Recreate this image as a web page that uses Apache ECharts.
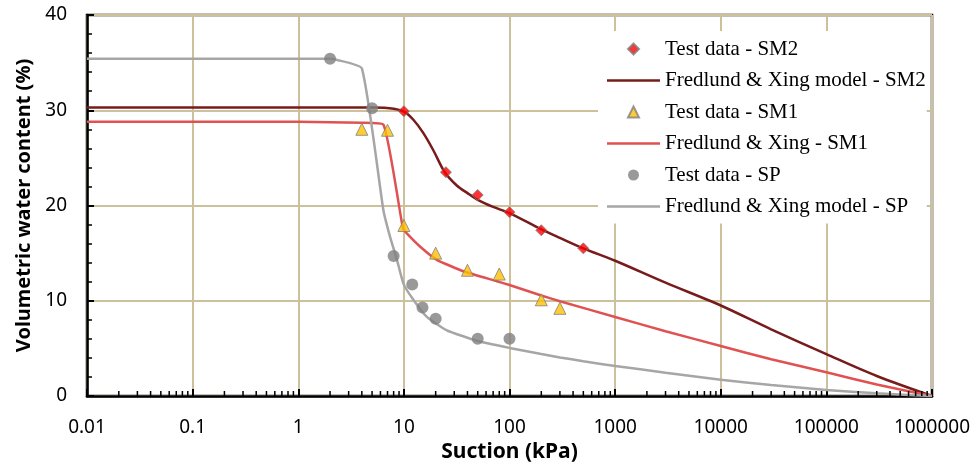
<!DOCTYPE html>
<html>
<head>
<meta charset="utf-8">
<script src="https://cdn.jsdelivr.net/npm/echarts@6/dist/echarts.min.js"></script>
<style>
  html, body { margin: 0; padding: 0; background: #fff; }
  #chart { width: 975px; height: 463px; }
</style>
</head>
<body>
<div id="chart"></div>
<script>
// test data
const sm2TestX = [10, 25, 50, 100, 200, 500]
const sm2TestY = [29.9, 23.5, 21.1, 19.3, 17.4, 15.5]
const sm1TestX = [4, 7, 10, 20, 40, 80, 200, 300]
const sm1TestY = [28.0, 27.9, 17.9, 15.0, 13.2, 12.8, 10.1, 9.2]
const spTestX = [2, 5, 8, 12, 15, 20, 50, 100]
const spTestY = [35.4, 30.2, 14.7, 11.7, 9.3, 8.1, 6.0, 6.0]

// fitted curves
const sm2ModelX = [0.01, 1, 5, 6.5, 8, 10, 12.3, 15.3, 19, 24.2, 31.7, 40, 50, 70, 100, 200, 300, 500, 1000, 3000, 10000, 30000, 100000, 300000, 1000000]
const sm2ModelY = [30.3, 30.3, 30.3, 30.27, 30.15, 29.85, 29.0, 27.6, 25.8, 23.55, 22.1, 21.3, 20.6, 19.85, 19.2, 17.5, 16.6, 15.5, 14.2, 11.9, 9.5, 7.0, 4.4, 2.1, 0]
const sm1ModelX = [0.01, 1, 4, 6.4, 9.8, 10.6, 14.2, 20.5, 36.6, 76, 100, 200, 300, 1000, 3000, 10000, 30000, 100000, 300000, 1000000]
const sm1ModelY = [28.8, 28.78, 28.7, 28.5, 17.6, 17.1, 15.7, 14.3, 13.1, 12.05, 11.65, 10.55, 9.95, 8.3, 6.8, 5.25, 3.85, 2.5, 1.2, 0]
const spModelX = [0.01, 2, 2.3, 4, 6.4, 7.4, 8.6, 9.9, 12.3, 16.5, 25.5, 49, 100, 200, 300, 500, 1000, 3000, 10000, 30000, 100000, 300000, 1000000]
const spModelY = [35.4, 35.4, 35.3, 34.4, 19.5, 16.7, 14.3, 11.8, 10.1, 8.3, 6.9, 5.8, 5.05, 4.4, 4.05, 3.65, 3.15, 2.45, 1.7, 1.15, 0.63, 0.28, 0]

const decades = [0.01, 0.1, 1, 10, 100, 1000, 10000, 100000]

const zip = (xs, ys) => xs.map((x, i) => [x, ys[i]])

// minor ticks at 2..9 of each decade
const minorTicks = []
decades.forEach(d => {
  for (let k = 2; k <= 9; k++) minorTicks.push([d * k, 0])
})

const serif = 'Liberation Serif'
const sans = 'Noto Sans'
const gridColor = '#cdc19c'

// legend icons (path icons keep their aspect)
const iconDiamond = 'path://M0,-1L1,0L0,1L-1,0Z'
const iconTriangle = 'path://M0,-1L1,1L-1,1Z'
const iconCircle = 'path://M-1,0A1,1,0,1,0,1,0A1,1,0,1,0,-1,0Z'
const iconLine = 'path://M0,0L53,0L53,2.5L0,2.5Z'

const chart = echarts.init(document.getElementById('chart'))

chart.setOption({
  animation: false,
  backgroundColor: '#fff',
  grid: {
    left: 87, right: 43, top: 15, bottom: 67,
    outerBoundsMode: 'none',
    show: true, borderColor: '#000', borderWidth: 2.5
  },
  legend: {
    orient: 'vertical',
    left: 598, top: 31,
    padding: [7, 1, 6, 9],
    backgroundColor: '#fff',
    itemWidth: 53, itemHeight: 11, itemGap: 9.5,
    textStyle: { fontFamily: serif, fontSize: 21, lineHeight: 22, color: '#000' },
    data: [
      { name: 'Test data - SM2', icon: iconDiamond },
      { name: 'Fredlund & Xing model - SM2', icon: iconLine },
      { name: 'Test data - SM1', icon: iconTriangle },
      { name: 'Fredlund & Xing - SM1', icon: iconLine },
      { name: 'Test data - SP', icon: iconCircle },
      { name: 'Fredlund & Xing model - SP', icon: iconLine }
    ]
  },
  xAxis: {
    type: 'log', logBase: 10, min: 0.01, max: 1000000,
    name: 'Suction (kPa)', nameLocation: 'middle', nameGap: 40,
    nameTextStyle: { fontFamily: sans, fontWeight: 'bold', fontSize: 21, color: '#000' },
    axisLine: { lineStyle: { color: '#000', width: 2.5 } },
    axisTick: { inside: true, length: 7, lineStyle: { color: '#000', width: 2 } },
    axisLabel: {
      fontFamily: sans, fontSize: 19, color: '#000', margin: 22,
      formatter: v => String(Number(v.toPrecision(6)))
    },
    splitLine: { show: true, lineStyle: { color: gridColor, width: 2 } }
  },
  yAxis: {
    type: 'value', min: 0, max: 40, interval: 10,
    name: 'Volumetric water content (%)', nameLocation: 'middle', nameGap: 53,
    nameTextStyle: { fontFamily: sans, fontWeight: 'bold', fontSize: 20, color: '#000' },
    axisLine: { show: true, lineStyle: { color: '#000', width: 2.5 } },
    axisTick: { show: true, inside: true, length: 7, lineStyle: { color: '#000', width: 2 } },
    minorTick: { show: true, splitNumber: 5, length: 5, lineStyle: { color: '#000', width: 1.5 } },
    axisLabel: { fontFamily: sans, fontSize: 19, color: '#000', margin: 20 },
    splitLine: { show: true, lineStyle: { color: gridColor, width: 2 } }
  },
  series: [
    {
      name: 'Test data - SM2', type: 'scatter', data: zip(sm2TestX, sm2TestY),
      symbol: 'diamond', symbolSize: 11, z: 5,
      itemStyle: { color: '#ff0000', borderColor: '#7f7f7f', borderWidth: 1 }
    },
    {
      name: 'Fredlund & Xing model - SM2', type: 'line', data: zip(sm2ModelX, sm2ModelY),
      showSymbol: false, symbol: 'none', smooth: 0.3, z: 3,
      itemStyle: { color: '#771b1b' },
      lineStyle: { color: '#771b1b', width: 2.5 }
    },
    {
      name: 'Test data - SM1', type: 'scatter', data: zip(sm1TestX, sm1TestY),
      symbol: 'triangle', symbolSize: 12, z: 5,
      itemStyle: { color: '#ffc000', borderColor: '#7f7f7f', borderWidth: 1 }
    },
    {
      name: 'Fredlund & Xing - SM1', type: 'line', data: zip(sm1ModelX, sm1ModelY),
      showSymbol: false, symbol: 'none', smooth: 0.15, z: 3,
      itemStyle: { color: '#e05252' },
      lineStyle: { color: '#e05252', width: 2.5 }
    },
    {
      name: 'Test data - SP', type: 'scatter', data: zip(spTestX, spTestY),
      symbol: 'circle', symbolSize: 12, z: 5,
      itemStyle: { color: '#808080' }
    },
    {
      name: 'Fredlund & Xing model - SP', type: 'line', data: zip(spModelX, spModelY),
      showSymbol: false, symbol: 'none', smooth: 0.15, z: 3,
      itemStyle: { color: '#a6a6a6' },
      lineStyle: { color: '#a6a6a6', width: 2.5 }
    },
    {
      type: 'custom', silent: true, clip: false, z: 6,
      data: minorTicks,
      renderItem: (params, api) => {
        const p = api.coord([api.value(0), 0])
        return {
          type: 'line',
          shape: { x1: p[0], y1: p[1], x2: p[0], y2: p[1] - 5 },
          style: { stroke: '#000', lineWidth: 1.5 }
        }
      }
    }
  ]
})
</script>
</body>
</html>
